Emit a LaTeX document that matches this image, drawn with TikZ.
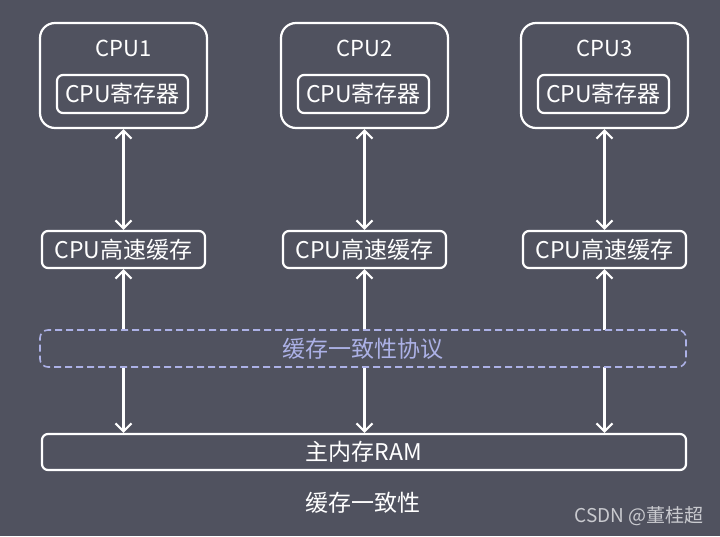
\documentclass[tikz,border=0pt]{standalone}
\usepackage{fontspec}
\setmainfont{Noto Sans CJK SC}
\usetikzlibrary{arrows.meta}
\definecolor{bg}{HTML}{50525F}
\definecolor{lav}{HTML}{ACB1E6}
\definecolor{wm}{HTML}{C9CACF}
\begin{document}
\begin{tikzpicture}[x=1pt,y=-1pt,
  box/.style={draw=white,line width=2.2pt,rounded corners=6pt,text=white,inner sep=0pt,
    font=\fontsize{23}{27}\selectfont},
  cpubox/.style={box,rounded corners=15pt,minimum width=167pt,minimum height=105pt},
  regbox/.style={box,minimum width=131pt,minimum height=38pt},
  cachebox/.style={box,minimum width=163pt,minimum height=37pt},
  link/.style={white,line width=2.2pt,{Straight Barb[length=8pt,width=16pt,line width=2.2pt]}-{Straight Barb[length=8pt,width=16pt,line width=2.2pt]}},
  lbl/.style={text=white,font=\fontsize{23}{27}\selectfont,inner sep=0pt}]
\fill[bg] (0,0) rectangle (720,536);
\useasboundingbox (0,0) rectangle (720,536);
% CPUs
\foreach \i/\x in {1/123.5,2/364.5,3/604.5}{
  \node[cpubox] (cpu\i) at (\x,75.5) {};
  \node[lbl,font=\fontsize{22}{26}\selectfont] (cpulbl\i) at (\x,48) {CPU\i};
  \node[regbox] (reg\i) at (\x-1,94) {CPU寄存器};
  \node[cachebox] (cache\i) at (\x,249.5) {CPU高速缓存};
}
\node[box,minimum width=644pt,minimum height=36pt] (mem) at (364,452) {主内存RAM};
\foreach \i in {1,2,3}{
  \draw[link] (cpu\i.south) -- (cache\i.north);
  \draw[link] (cache\i.south) -- (cache\i.south |- mem.north);
}
\node[draw=lav,fill=bg,dashed,dash pattern=on 7pt off 4pt,line width=1.6pt,rounded corners=8pt,
  minimum width=646pt,minimum height=37pt,inner sep=0pt,text=lav,
  font=\fontsize{23}{27}\selectfont] (mesi) at (363,348.5) {缓存一致性协议};
\node[lbl] (title) at (363,503) {缓存一致性};
\node[text=wm,font=\fontsize{19}{22}\selectfont,inner sep=0pt,anchor=east] (wmark) at (704,516) {CSDN @董桂超};
\end{tikzpicture}
\end{document}
